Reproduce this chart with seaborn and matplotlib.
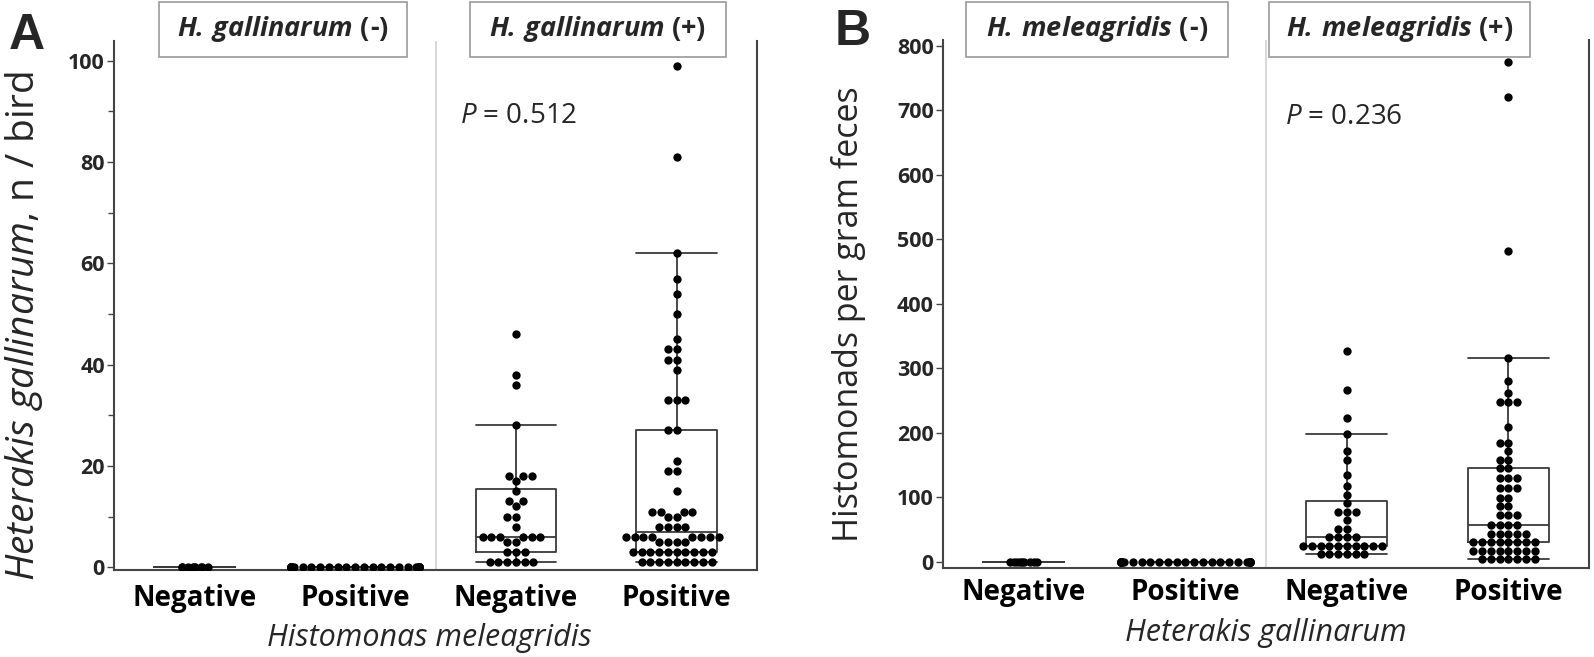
import warnings
import numpy as np
import pandas as pd
import seaborn as sns
import matplotlib.pyplot as plt
from matplotlib.patches import Rectangle
from matplotlib.ticker import MultipleLocator

warnings.filterwarnings("ignore", category=UserWarning)

# x categories inside each facet
cats = ["Negative", "Positive"]
order = ["neg_neg", "neg_pos", "pos_neg", "pos_pos"]

# Panel A: Heterakis gallinarum worms per bird (facet = H. gallinarum status, x = H. meleagridis)
a_hgneg_hmneg = [0] * 9
a_hgneg_hmpos = [0] * 36
a_hgpos_hmneg = [46, 38, 36, 28, 18, 18, 18, 17, 15, 13, 13, 12, 10, 10, 8,
                 6, 6, 6, 6, 6, 6, 5, 5, 3, 3, 3, 1, 1, 1, 1, 1, 1]
a_hgpos_hmpos = [99, 81, 62, 57, 54, 50, 45, 43, 43, 41, 41, 39, 33, 33, 33,
                 27, 27, 21, 19, 19, 15, 11, 11, 11, 11, 10, 10, 8, 8, 8, 8,
                 6, 6, 6, 6, 6, 6, 6, 6, 5, 5, 5, 5,
                 3, 3, 3, 3, 3, 3, 3, 3, 3, 3, 1, 1, 1, 1, 1, 1, 1, 1, 1]

# Panel B: histomonads per gram feces (facet = H. meleagridis status, x = H. gallinarum)
b_hmneg_hgneg = [0] * 9
b_hmneg_hgpos = [0] * 32
b_hmpos_hgneg = [326, 266, 222, 198, 171, 158, 135, 117, 104, 91, 77, 77, 77, 64,
                 51, 51, 38, 38, 38, 38, 24, 24, 24, 24, 24, 24, 24, 24, 24, 24,
                 11, 11, 11, 11, 11, 11]
b_hmpos_hgpos = [775, 720, 481, 316, 280, 261, 247, 247, 247, 209, 184, 184, 171,
                 158, 158, 145, 145, 130, 130, 130, 114, 114, 114, 99, 99, 86, 86,
                 72, 72, 72, 56, 56, 56, 56, 43, 43, 43, 43, 43,
                 30, 30, 30, 30, 30, 30, 30, 30, 17, 17, 17, 17, 17, 17, 17, 17,
                 4, 4, 4, 4, 4, 4, 4]


def make_df(groups):
    rows = []
    for g, vals in zip(order, groups):
        rows += [(g, v) for v in vals]
    return pd.DataFrame(rows, columns=["grp", "val"])


df_a = make_df([a_hgneg_hmneg, a_hgneg_hmpos, a_hgpos_hmneg, a_hgpos_hmpos])
df_b = make_df([b_hmneg_hgneg, b_hmneg_hgpos, b_hmpos_hgneg, b_hmpos_hgpos])

sns.set_style("white")
plt.rcParams["font.family"] = ["Open Sans", "DejaVu Sans"]
plt.rcParams["mathtext.fontset"] = "custom"
plt.rcParams["mathtext.rm"] = "Open Sans"
plt.rcParams["mathtext.it"] = "Open Sans:italic"
plt.rcParams["mathtext.bf"] = "Open Sans:bold"
plt.rcParams["mathtext.bfit"] = "Open Sans:italic:bold"

W, H = 1594, 657
fig = plt.figure(figsize=(W / 100, H / 100), dpi=100)
ax_a = fig.add_axes([114 / W, 1 - 570 / H, 643 / W, 529 / H])
ax_b = fig.add_axes([943 / W, 1 - 568 / H, 646 / W, 528 / H])

SPINE = "#444444"
BOX = "#3a3a3a"


def draw_panel(ax, df, zero_jitter, ylim, ymajor, yminor, xpad):
    sns.boxplot(data=df, x="grp", y="val", order=order, ax=ax, width=0.5,
                fill=False, color=BOX, linecolor=BOX, linewidth=1.3,
                showfliers=False)
    # caps as wide as the box (JMP style)
    for ln in ax.lines:
        xd = np.asarray(ln.get_xdata(), float)
        yd = np.asarray(ln.get_ydata(), float)
        if len(xd) == 2 and yd[0] == yd[1] and np.isclose(abs(xd[1] - xd[0]), 0.25):
            c = xd.mean()
            ln.set_xdata([c - 0.25, c + 0.25])

    # small all-zero group: narrow packed band
    sns.stripplot(data=df[df.grp == order[0]], x="grp", y="val", order=order,
                  ax=ax, jitter=zero_jitter, size=6, color="black", linewidth=0)
    # the other groups as swarms
    for grps in ([order[1]], order[2:]):
        sns.swarmplot(data=df[df.grp.isin(grps)], x="grp", y="val", order=order,
                      ax=ax, size=6, color="black", linewidth=0)

    ax.axvline(1.5, color="#d9d9d9", lw=1.5, zorder=0)
    ax.set_xlim(-0.5, 3.5)
    ax.set_ylim(*ylim)
    ax.set_xticks(range(4))
    ax.set_xticklabels(cats * 2, fontsize=20, fontweight="bold")
    ax.yaxis.set_major_locator(MultipleLocator(ymajor))
    if yminor:
        ax.yaxis.set_minor_locator(MultipleLocator(yminor))
    for lab in ax.get_yticklabels():
        lab.set_fontweight("bold")
        lab.set_fontsize(15.5)
    ax.tick_params(axis="x", length=0, pad=xpad, colors="black")
    ax.tick_params(axis="y", which="major", direction="out", length=5, width=1,
                   color=SPINE, left=True, pad=1.5)
    ax.tick_params(axis="y", which="minor", direction="out", length=4, width=1,
                   color=SPINE, left=True)
    ax.spines["top"].set_visible(False)
    for s in ["left", "bottom", "right"]:
        ax.spines[s].set_color(SPINE)
        ax.spines[s].set_linewidth(1.5)
    ax.set_xlabel("")
    ax.set_ylabel("")


np.random.seed(7)
draw_panel(ax_a, df_a, 0.09, (-0.55, 103.9), 20, 10, 10)
draw_panel(ax_b, df_b, 0.10, (-10, 809), 100, None, 7)

# axis titles
ax_a.set_ylabel(r"$Heterakis\ gallinarum$, n / bird", fontsize=28)
ax_a.yaxis.set_label_coords(-0.108, 0.462)
ax_a.set_xlabel("Histomonas meleagridis", fontsize=22, style="italic")
ax_a.xaxis.set_label_coords(0.49, -0.1)

ax_b.set_ylabel("Histomonads per gram feces", fontsize=24.5)
ax_b.yaxis.set_label_coords(-0.119, 0.48)
ax_b.set_xlabel("Heterakis gallinarum", fontsize=22, style="italic")
ax_b.xaxis.set_label_coords(0.5, -0.095)

# P values
ax_a.text(1.65, 89, "$P$ = 0.512", fontsize=20, va="center", ha="left")
ax_b.text(1.62, 690, "$P$ = 0.236", fontsize=20, va="center", ha="left")

# panel letters
fig.text(9 / W, 1 - 49 / H, "A", fontsize=36, fontweight="bold",
         family="Liberation Sans", va="baseline")
fig.text(835 / W, 1 - 45 / H, "B", fontsize=36, fontweight="bold",
         family="Liberation Sans", va="baseline")

# facet header boxes (pixel layout)
headers = [
    (159, 407, r"$\mathbfit{H.\,gallinarum}$ (-)"),
    (470, 726, r"$\mathbfit{H.\,gallinarum}$ (+)"),
    (966, 1228, r"$\mathbfit{H.\,meleagridis}$ (-)"),
    (1269, 1530, r"$\mathbfit{H.\,meleagridis}$ (+)"),
]
for x0, x1, label in headers:
    fig.add_artist(Rectangle((x0 / W, 1 - 57 / H), (x1 - x0) / W, 55 / H,
                             transform=fig.transFigure, facecolor="white",
                             edgecolor="#9a9a9a", lw=1.2))
    fig.text((x0 + x1) / 2 / W, 1 - 29.5 / H, label, fontsize=19.5,
             fontweight="bold", ha="center", va="center")

fig.savefig("out.png", dpi=100)
